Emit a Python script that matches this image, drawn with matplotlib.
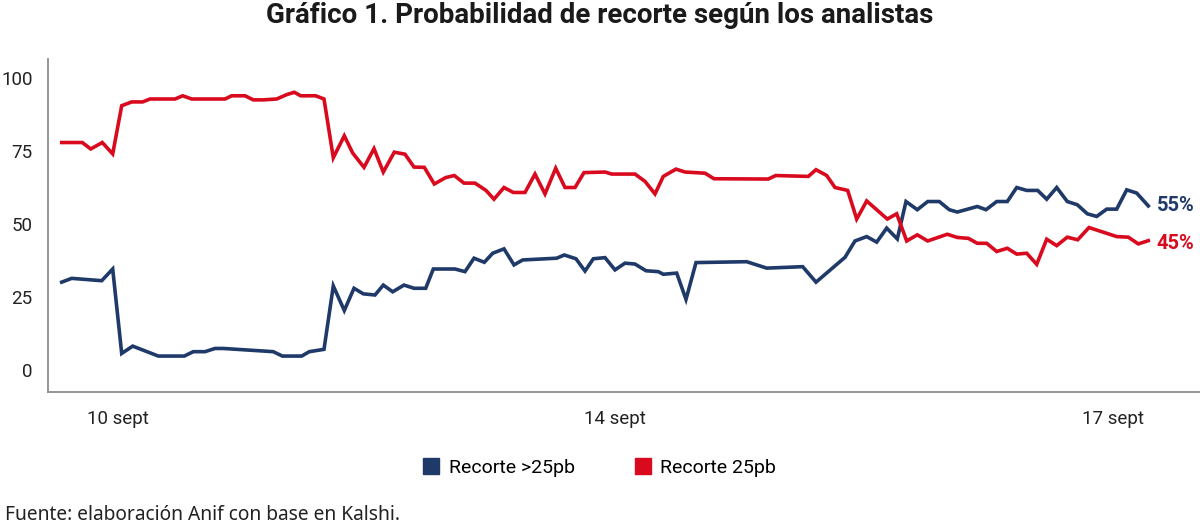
import matplotlib.pyplot as plt
from matplotlib.lines import Line2D

# time position (arbitrary units, irregular sampling) and probability (%)
t_red = [1.37, 3.43, 4.27, 5.43, 6.47, 7.37, 8.37, 9.47, 10.2, 12.7, 13.47, 14.37, 17.7, 18.37,
         19.7, 20.53, 21.53, 22.87, 23.87, 24.63, 25.27, 26.77, 27.6, 28.53, 29.63, 30.47, 31.6,
         32.6, 33.53, 34.63, 35.7, 36.6, 37.63, 38.63, 39.77, 40.63, 41.6, 42.7, 43.8, 44.6,
         45.6, 46.53, 47.7, 48.7, 49.7, 50.77, 51.7, 52.7, 53.6, 55.7, 56.37, 58.7, 59.7, 60.7,
         61.53, 62.8, 63.7, 65.7, 66.6, 72.03, 72.77, 76.03, 76.8, 77.87, 78.7, 79.97, 80.87,
         81.87, 83.93, 84.87, 85.87, 86.93, 87.97, 89.93, 90.93, 92.03, 92.93, 93.87, 94.87,
         95.93, 96.87, 97.87, 98.87, 99.87, 100.87, 101.93, 102.97, 104.1, 106.87, 108.03,
         109.03, 110.03]
recorte_25 = [77.9, 77.9, 75.7, 77.9, 74.0, 90.5, 91.8, 91.8, 92.8, 92.8, 93.9, 92.8, 92.8, 93.9,
              93.9, 92.5, 92.5, 92.8, 94.3, 95.1, 93.9, 93.9, 92.8, 72.7, 80.2, 74.3, 69.4,
              75.8, 67.8, 74.6, 73.9, 69.5, 69.4, 63.7, 65.9, 66.6, 64.0, 64.0, 61.5, 58.5,
              62.5, 60.8, 60.8, 67.1, 60.3, 69.1, 62.5, 62.5, 67.6, 67.8, 67.1, 67.1, 64.6, 60.3,
              66.3, 68.8, 67.8, 67.4, 65.5, 65.4, 66.6, 66.3, 68.6, 66.6, 62.5, 61.5, 51.7,
              57.9, 51.7, 53.5, 44.2, 46.3, 44.2, 46.5, 45.4, 45.1, 43.4, 43.4, 40.6,
              41.7, 39.7, 40.0, 36.2, 44.8, 42.6, 45.5, 44.6, 48.8, 45.7, 45.5,
              43.2, 44.3]

t_blue = [1.37, 2.37, 5.37, 6.47, 7.37, 8.47, 11.03, 13.63, 14.53, 15.7, 16.7, 17.53, 22.53,
          23.43, 25.37, 26.13, 27.6, 28.53, 29.63, 30.6, 31.53, 32.7, 33.53, 34.47, 35.6, 36.6,
          37.77, 38.53, 40.7, 41.7, 42.6, 43.63, 44.47, 45.6, 46.6, 47.47, 50.87, 51.63, 52.8,
          53.7, 54.53, 55.7, 56.7, 57.7, 58.7, 59.8, 61.03, 61.53, 62.87, 63.8, 64.8, 69.87,
          71.87, 75.47, 76.8, 79.7, 80.7, 81.87, 82.87, 83.87, 84.93, 85.8, 86.93, 87.97,
          89.13, 90.13, 90.93, 92.93, 93.8, 94.87, 95.93, 96.87, 97.87, 98.97, 99.87, 100.87,
          101.93, 102.93, 103.93, 104.87, 105.87, 106.87, 107.87, 108.87, 110.03]
recorte_mas_25 = [30.1, 31.4, 30.6, 34.6, 5.7, 8.2, 4.8, 4.8, 6.3, 6.3, 7.4, 7.4, 6.3,
                  4.8, 4.8, 6.3, 7.1, 28.8, 20.4, 28.0, 26.1, 25.7, 29.1, 26.8, 29.1, 28.0,
                  28.0, 34.6, 34.6, 33.7, 38.3, 36.9, 40.0, 41.5, 36.0, 37.7, 38.3, 39.4, 38.1,
                  33.9, 38.1, 38.5, 34.3, 36.6, 36.3, 34.0, 33.7, 32.8, 33.2, 24.2, 36.8, 37.1,
                  34.9, 35.4, 30.1, 38.6, 44.2, 45.7, 43.8, 48.6, 44.9, 57.7, 54.9, 57.7,
                  57.7, 54.9, 54.1, 56.0, 54.9, 57.7, 57.7, 62.5, 61.5, 61.5, 58.5, 62.5,
                  57.7, 56.6, 53.5, 52.6, 55.1, 55.1, 61.7, 60.6, 56.2]

end_labels = ["55%", "45%"]
series_names = ["Recorte >25pb", "Recorte 25pb"]
x_ticks = [7.03, 56.7, 106.5]
x_labels = ["10 sept", "14 sept", "17 sept"]
y_ticks = [0, 25, 50, 75, 100]

navy = "#1f3a68"
red = "#d90a1e"

plt.rcParams["font.family"] = ["Roboto", "DejaVu Sans"]

fig = plt.figure(figsize=(12, 5.28), dpi=100)
ax = fig.add_axes([0.04, 0.2576, 0.96, 0.6307])

ax.plot(t_blue, recorte_mas_25, color=navy, lw=2.6, solid_joinstyle="miter")
ax.plot(t_red, recorte_25, color=red, lw=2.6, solid_joinstyle="miter")

ax.annotate(end_labels[0], (t_blue[-1], recorte_mas_25[-1]),
            xytext=(6, 0), textcoords="offset points", va="center", ha="left",
            color=navy, fontsize=14.5, fontweight="bold")
ax.annotate(end_labels[1], (t_red[-1], recorte_25[-1]),
            xytext=(6, -2), textcoords="offset points", va="center", ha="left",
            color=red, fontsize=14.5, fontweight="bold")

ax.set_xlim(0, 115.2)
ax.set_ylim(-7.5, 106.5)
ax.set_xticks(x_ticks)
ax.set_xticklabels(x_labels)
ax.set_yticks(y_ticks)
ax.tick_params(axis="x", length=0, pad=13, labelsize=13.5, colors="#222222")
ax.tick_params(axis="y", length=0, pad=11, labelsize=13.5, colors="#222222")
for s in ["top", "right"]:
    ax.spines[s].set_visible(False)
for s in ["left", "bottom"]:
    ax.spines[s].set_color("#8c8c8c")
    ax.spines[s].set_linewidth(1.3)

fig.text(0.5, 0.97, "Gráfico 1. Probabilidad de recorte según los analistas",
         ha="center", va="center", fontsize=20, fontweight="bold", color="#1a1a1a")

handles = [Line2D([], [], marker="s", ls="none", color=navy, markersize=11),
           Line2D([], [], marker="s", ls="none", color=red, markersize=11)]
fig.legend(handles, series_names, loc="center",
           bbox_to_anchor=(0.5, 0.114), ncol=2, frameon=False, fontsize=14,
           handlelength=0.8, handletextpad=0.5, columnspacing=3.1)

fig.text(0.004, 0.025, "Fuente: elaboración Anif con base en Kalshi.", ha="left",
         va="center", fontsize=13.8, family=["Noto Sans", "DejaVu Sans"], color="#222222")

fig.savefig("out.png", dpi=100)
